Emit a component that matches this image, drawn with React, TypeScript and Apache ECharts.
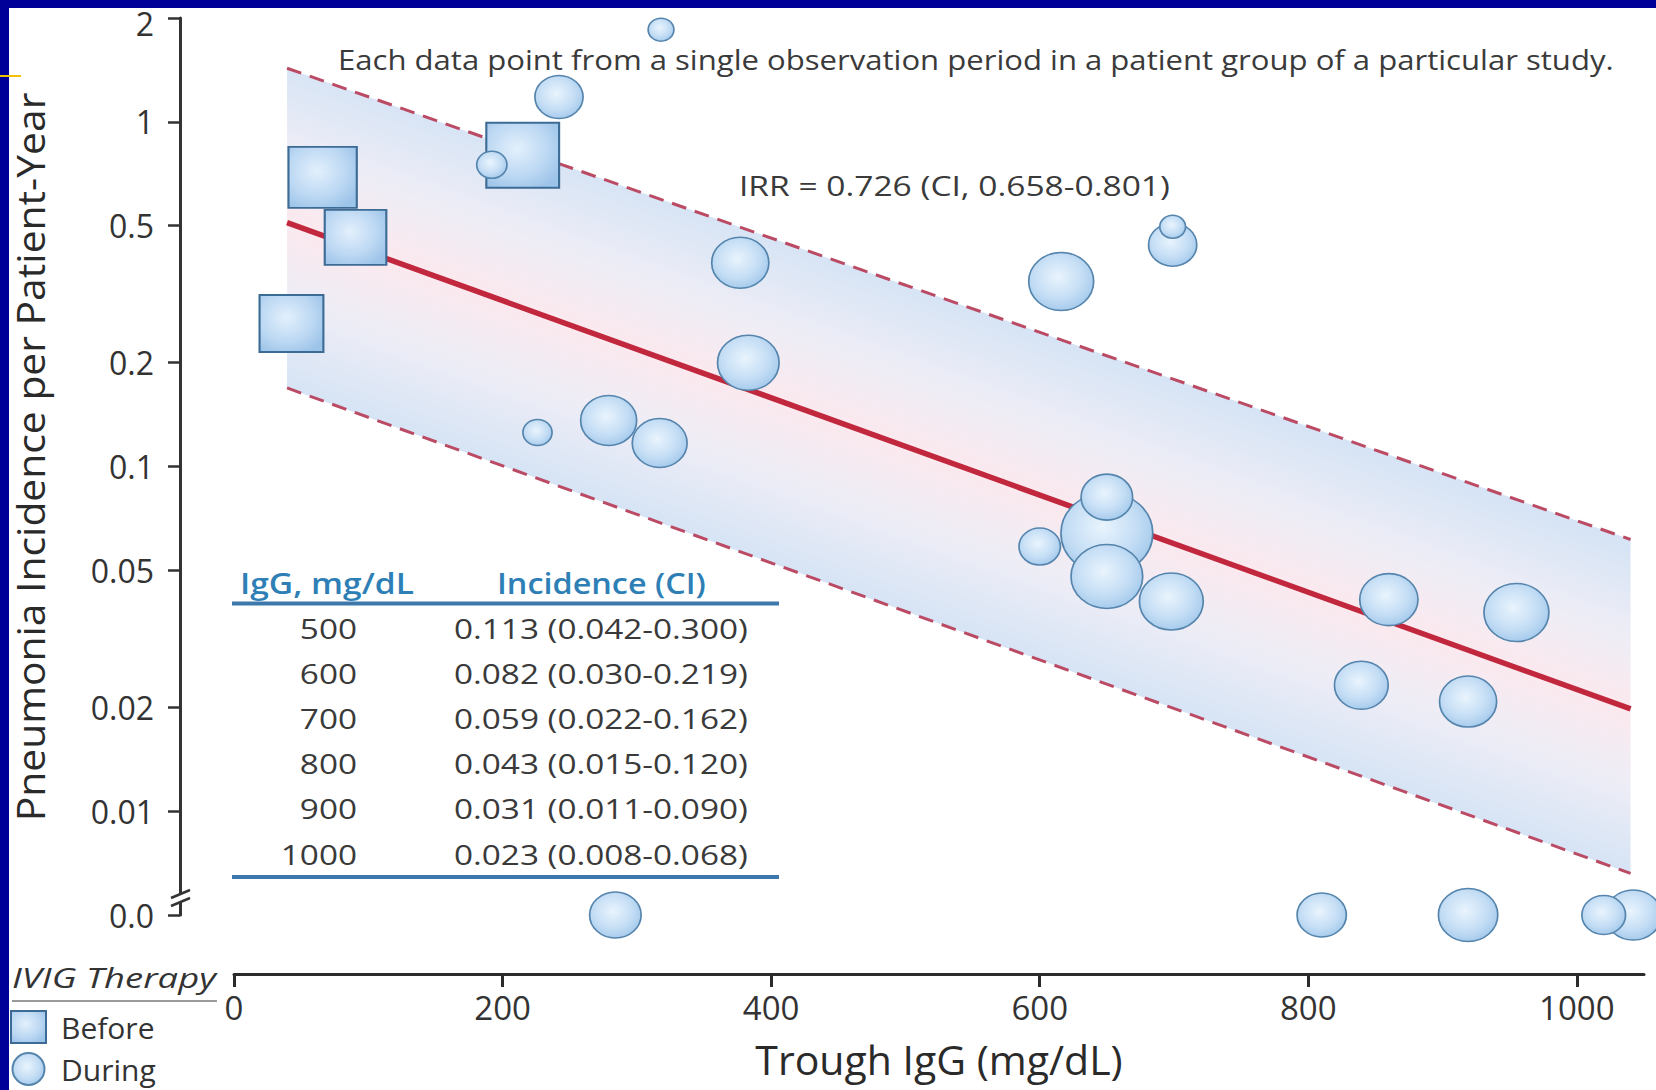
import React, { useEffect, useRef } from 'react';
import * as echarts from 'echarts';

// ---------- data ----------
const yTickValues = [0.005, 0.01, 0.02, 0.05, 0.1, 0.2, 0.5, 1, 2];
const yTickLabels = ['0.0', '0.01', '0.02', '0.05', '0.1', '0.2', '0.5', '1', '2'];
const xTickValues = [0, 200, 400, 600, 800, 1000];
const ZERO_POSITION = 0.005; // incidence 0.0 is drawn below the axis break

// IVIG before: [trough IgG, incidence, bubble size]
const beforeIgG = [66, 90.5, 42.8, 215];
const beforeIncidence = [0.69, 0.462, 0.26, 0.8];
const beforeSize = [61, 55, 57, 65];

// IVIG during: [trough IgG, incidence, bubble size]
const duringIgG = [318, 242, 192, 377, 383, 226, 279, 317, 284, 616, 699, 699, 650, 650, 650, 600, 698, 860, 955, 839.5, 919, 810, 919, 1042, 1020];
const duringIncidence = [1.85, 1.18, 0.75, 0.39, 0.2, 0.1255, 0.136, 0.117, 0, 0.344, 0.44, 0.496, 0.064, 0.0815, 0.048, 0.0586, 0.0406, 0.0411, 0.0377, 0.0232, 0.0208, 0, 0, 0, 0];
const duringSize = [23, 43, 27, 51, 55, 26, 50, 49, 46, 58, 43, 23, 82, 46, 64, 37, 57, 52, 58, 48, 51, 44, 53, 50, 39];

// regression line and confidence band end points
const fitIgG = [39.5, 1040];
const fitIncidence = [0.51, 0.0198];
const upperCI = [1.43, 0.0614];
const lowerCI = [0.169, 0.0066];

// table
const tableHeader = ['IgG, mg/dL', 'Incidence (CI)'];
const tableIgG = ['500', '600', '700', '800', '900', '1000'];
const tableIncidence = [
  '0.113 (0.042-0.300)',
  '0.082 (0.030-0.219)',
  '0.059 (0.022-0.162)',
  '0.043 (0.015-0.120)',
  '0.031 (0.011-0.090)',
  '0.023 (0.008-0.068)',
];

const noteText = 'Each data point from a single observation period in a patient group of a particular study.';
const irrText = 'IRR = 0.726 (CI, 0.658-0.801)';
const yTitle = 'Pneumonia Incidence per Patient-Year';
const xTitle = 'Trough IgG (mg/dL)';
const legendTitle = 'IVIG Therapy';

// ---------- helpers ----------
const FONT = '"Open Sans", "Noto Sans", sans-serif';
const ly = (v: number) => Math.log10(v <= 0 ? ZERO_POSITION : v);

let ctx: CanvasRenderingContext2D | null = null;
function measure(text: string, size: number, weight = 'normal', style = 'normal') {
  if (!ctx) ctx = document.createElement('canvas').getContext('2d');
  ctx!.font = `${style} ${weight} ${size}px "Open Sans"`;
  return ctx!.measureText(text).width;
}

function txt(text: string, x: number, y: number, o: any = {}) {
  const size = o.size || 28;
  const weight = o.weight || 'normal';
  const fstyle = o.fstyle || 'normal';
  const scaleX = o.width ? o.width / measure(text, size, weight, fstyle) : 1;
  return {
    type: 'text',
    x,
    y,
    scaleX,
    rotation: o.rotation || 0,
    silent: true,
    z: 10,
    style: {
      text,
      fontSize: size,
      fontFamily: FONT,
      fontWeight: weight,
      fontStyle: fstyle,
      fill: o.color || '#3a3a3a',
      textAlign: o.align || 'left',
      textVerticalAlign: 'middle',
    },
  };
}

const circlePath = 'path://M0 1A1 1 0 1 1 2 1A1 1 0 1 1 0 1Z';
const ASPECT = 1.12;

function buildOption() {
  const before = beforeIgG.map((x, i) => [x, ly(beforeIncidence[i]), beforeSize[i]]);
  const during = duringIgG.map((x, i) => [x, ly(duringIncidence[i]), duringSize[i]]);
  const fit = fitIgG.map((x, i) => [x, ly(fitIncidence[i])]);
  const up = fitIgG.map((x, i) => [x, ly(upperCI[i])]);
  const lo = fitIgG.map((x, i) => [x, ly(lowerCI[i])]);

  const rowW = 294;
  const rowScale = rowW / measure(tableIncidence[0], 28);

  const graphic: any[] = [
    // slide frame
    { type: 'rect', shape: { x: 0, y: 0, width: 1656, height: 8 }, style: { fill: '#000099' }, z: 100, silent: true },
    { type: 'rect', shape: { x: 0, y: 0, width: 9, height: 1090 }, style: { fill: '#000099' }, z: 100, silent: true },
    { type: 'rect', shape: { x: 0, y: 75, width: 21, height: 2 }, style: { fill: '#f2c200' }, z: 101, silent: true },
    // y axis break
    { type: 'rect', shape: { x: 172, y: 894, width: 16, height: 9 }, style: { fill: '#ffffff' }, z: 50, silent: true },
    { type: 'line', shape: { x1: 171, y1: 898, x2: 190, y2: 890 }, style: { stroke: '#333', lineWidth: 2.5 }, z: 51, silent: true },
    { type: 'line', shape: { x1: 171, y1: 906, x2: 190, y2: 898 }, style: { stroke: '#333', lineWidth: 2.5 }, z: 51, silent: true },
    // annotations
    txt(noteText, 338, 59, { size: 28, width: 1276 }),
    txt(irrText, 739, 185, { size: 28, width: 431 }),
    // y title
    txt(yTitle, 30, 457, { size: 39, width: 729, align: 'center', rotation: Math.PI / 2, color: '#2a2a2a' }),
    // table
    txt(tableHeader[0], 240, 583, { size: 28, weight: '600', width: 174, color: '#2e7fb6' }),
    txt(tableHeader[1], 497, 583, { size: 28, weight: '600', width: 209, color: '#2e7fb6' }),
    { type: 'rect', shape: { x: 232, y: 601.5, width: 547, height: 4 }, style: { fill: '#3c78ab' }, z: 10, silent: true },
    { type: 'rect', shape: { x: 232, y: 875, width: 547, height: 4 }, style: { fill: '#3c78ab' }, z: 10, silent: true },
    // legend title
    txt(legendTitle, 12, 977, { size: 28, fstyle: 'italic', width: 204, color: '#333' }),
    { type: 'rect', shape: { x: 12, y: 1000, width: 205, height: 2 }, style: { fill: '#9a9a9a' }, z: 10, silent: true },
  ];
  const rowY = [628, 673, 718, 763, 808, 854];
  tableIgG.forEach((t, i) => {
    const g = txt(t, 357, rowY[i], { size: 28, align: 'right' });
    g.scaleX = rowScale;
    graphic.push(g);
    const h = txt(tableIncidence[i], 454, rowY[i], { size: 28 });
    h.scaleX = rowScale;
    graphic.push(h);
  });

  const bubbleFill = {
    type: 'radial', x: 0.45, y: 0.42, r: 0.62,
    colorStops: [
      { offset: 0, color: '#e9f4fd' },
      { offset: 0.6, color: '#c5def5' },
      { offset: 1, color: '#a2c8eb' },
    ],
  };
  const squareFill = {
    type: 'radial', x: 0.42, y: 0.4, r: 0.7,
    colorStops: [
      { offset: 0, color: '#e3f0fc' },
      { offset: 0.6, color: '#bcd8f3' },
      { offset: 1, color: '#9cc3e8' },
    ],
  };

  const topLabel = yTickLabels[yTickLabels.length - 1];

  return {
    animation: false,
    backgroundColor: '#ffffff',
    textStyle: { fontFamily: FONT },
    grid: { left: 234, top: 18, width: 1410, height: 897, outerBoundsMode: 'none', containLabel: false },
    xAxis: {
      type: 'value',
      min: 0,
      max: 1050,
      offset: 59,
      name: xTitle,
      nameLocation: 'middle',
      nameGap: 64,
      nameTextStyle: { fontSize: 41, lineHeight: 41, color: '#2a2a2a', fontFamily: FONT },
      axisLine: { show: true, onZero: false, lineStyle: { color: '#2b2b2b', width: 3 } },
      axisTick: { show: true, length: 13, lineStyle: { color: '#2b2b2b', width: 3 }, customValues: xTickValues },
      axisLabel: {
        fontSize: 33, lineHeight: 34, color: '#333', margin: 16, customValues: xTickValues, fontFamily: FONT,
        formatter: (v: number) => String(v),
      },
      splitLine: { show: false },
    },
    yAxis: {
      type: 'value',
      min: ly(yTickValues[0]),
      max: ly(yTickValues[yTickValues.length - 1]),
      offset: 54,
      axisLine: { show: true, onZero: false, lineStyle: { color: '#333', width: 3 } },
      axisTick: { show: true, length: 12, lineStyle: { color: '#333', width: 2.5 }, customValues: yTickValues.map(ly) },
      axisLabel: {
        fontSize: 32,
        lineHeight: 28,
        color: '#333',
        margin: 26,
        fontFamily: FONT,
        customValues: yTickValues.map(ly),
        formatter: (v: number) => {
          const i = yTickValues.findIndex((t) => Math.abs(ly(t) - v) < 1e-6);
          if (i < 0) return '';
          const s = yTickLabels[i];
          return s === topLabel ? `{top|${s}}` : s;
        },
        rich: {
          top: { fontSize: 32, lineHeight: 28, color: '#333', fontFamily: FONT, padding: [10, 0, 0, 0] },
        },
      },
      splitLine: { show: false },
    },
    legend: {
      orient: 'vertical',
      left: 10,
      top: 1010,
      itemWidth: 35,
      itemHeight: 32,
      itemGap: 8,
      padding: 0,
      data: ['Before', 'During'],
      textStyle: { fontSize: 30, color: '#333', fontFamily: FONT, padding: [0, 0, 0, 10] },
    },
    graphic,
    series: [
      {
        type: 'custom',
        name: 'band',
        silent: true,
        z: 1,
        clip: false,
        data: [fit[0]],
        renderItem: (params: any, api: any) => {
          const u1 = api.coord(up[0]), u2 = api.coord(up[1]);
          const m1 = api.coord(fit[0]), m2 = api.coord(fit[1]);
          const l1 = api.coord(lo[0]), l2 = api.coord(lo[1]);
          const dx = m2[0] - m1[0], dy = m2[1] - m1[1];
          const len = Math.hypot(dx, dy);
          const nx = dy / len, ny = -dx / len;
          const mm = [(m1[0] + m2[0]) / 2, (m1[1] + m2[1]) / 2];
          const um = [(u1[0] + u2[0]) / 2, (u1[1] + u2[1]) / 2];
          const lm = [(l1[0] + l2[0]) / 2, (l1[1] + l2[1]) / 2];
          const du = (um[0] - mm[0]) * nx + (um[1] - mm[1]) * ny;
          const dl = (lm[0] - mm[0]) * nx + (lm[1] - mm[1]) * ny;
          const stops = [
            { offset: 0, color: '#fbe9ee' },
            { offset: 0.45, color: '#eeedf6' },
            { offset: 1, color: '#d6e4f5' },
          ];
          return {
            type: 'group',
            children: [
              {
                type: 'polygon',
                shape: { points: [u1, u2, m2, m1] },
                style: { fill: { type: 'linear', x: mm[0], y: mm[1], x2: mm[0] + nx * du, y2: mm[1] + ny * du, colorStops: stops, global: true } },
              },
              {
                type: 'polygon',
                shape: { points: [m1, m2, l2, l1] },
                style: { fill: { type: 'linear', x: mm[0], y: mm[1], x2: mm[0] + nx * dl, y2: mm[1] + ny * dl, colorStops: stops, global: true } },
              },
            ],
          };
        },
      },
      {
        type: 'line', name: 'upper', data: up, symbol: 'none', silent: true, z: 2,
        lineStyle: { color: '#bb4a64', width: 3, type: [15, 9] },
      },
      {
        type: 'line', name: 'lower', data: lo, symbol: 'none', silent: true, z: 2,
        lineStyle: { color: '#bb4a64', width: 3, type: [15, 9] },
      },
      {
        type: 'line', name: 'fit', data: fit, symbol: 'none', silent: true, z: 3,
        lineStyle: { color: '#c1283e', width: 5.5 },
      },
      {
        type: 'scatter', name: 'Before', data: before, symbol: 'rect', z: 5,
        symbolSize: (v: number[]) => [v[2] * ASPECT, v[2]],
        itemStyle: { color: squareFill, borderColor: '#3c6b95', borderWidth: 2, opacity: 1 },
      },
      {
        type: 'scatter', name: 'During', data: during, symbol: circlePath, z: 6,
        symbolSize: (v: number[]) => [v[2] * ASPECT, v[2]],
        itemStyle: { color: bubbleFill, borderColor: '#5585ad', borderWidth: 1.6, opacity: 1 },
      },
    ],
  };
}

export default function App() {
  const ref = useRef<HTMLDivElement>(null);
  useEffect(() => {
    document.body.style.margin = '0';
    const chart = echarts.init(ref.current!, null, { renderer: 'svg' });
    chart.setOption(buildOption() as any);
    return () => chart.dispose();
  }, []);
  return (
    <div
      ref={ref}
      style={{ position: 'fixed', left: 0, top: 0, width: 1656, height: 1090, background: '#fff' }}
    />
  );
}
